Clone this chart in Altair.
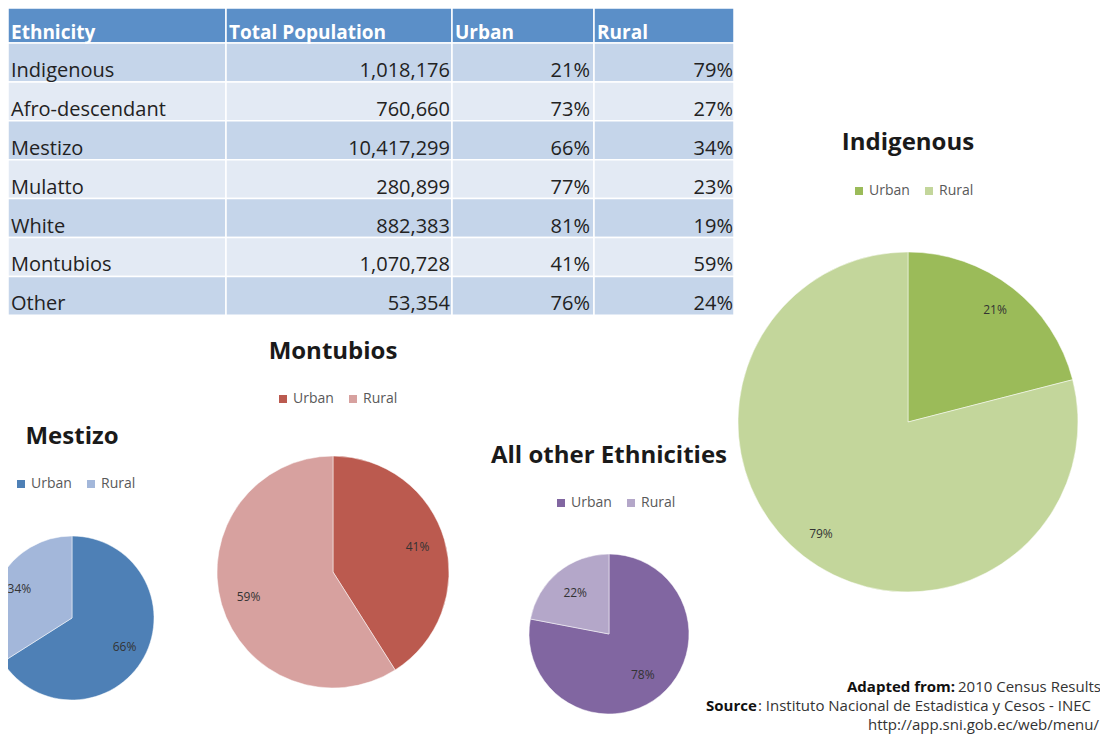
import altair as alt
import pandas as pd

W, H = 1092, 726
FONT = "Open Sans"

# ---------------- data ----------------
headers = ["Ethnicity", "Total Population", "Urban", "Rural"]
ethnicity = ["Indigenous", "Afro-descendant", "Mestizo", "Mulatto", "White", "Montubios", "Other"]
total_pop = [1018176, 760660, 10417299, 280899, 882383, 1070728, 53354]
urban_pct = [21, 73, 66, 77, 81, 41, 76]
rural_pct = [79, 27, 34, 23, 19, 59, 24]

categories = ["Urban", "Rural"]
pie_titles = ["Indigenous", "Montubios", "Mestizo", "All other Ethnicities"]
pie_urban = [21, 41, 66, 78]
pie_rural = [79, 59, 34, 22]
pie_colors = [
    ["#9bbb59", "#c3d69b"],
    ["#bb5a4f", "#d7a19f"],
    ["#4e80b6", "#a3b7da"],
    ["#8166a1", "#b4a7c9"],
]

source_bold = ["Adapted from:", "Source"]
source_normal = ["2010 Census Results", ": Instituto Nacional de Estadistica y Cesos - INEC"]
source_url = "http://app.sni.gob.ec/web/menu/"

# ---------------- layout ----------------
col_edges = [0, 218, 444, 586, 726]
header_top, header_bottom = 0, 35
row_h = 38.9
HEADER_FILL = "#5b8fc8"
ROW_FILLS = ["#c5d5ea", "#e3eaf4"]

xs = alt.Scale(domain=[0, W], nice=False, zero=False)
ys = alt.Scale(domain=[0, H], nice=False, zero=False, reverse=True)

# table cells
cells = []
for c in range(4):
    cells.append(dict(x0=col_edges[c], x1=col_edges[c + 1], y0=header_top, y1=header_bottom, fill=HEADER_FILL))
for r in range(len(ethnicity)):
    for c in range(4):
        cells.append(dict(x0=col_edges[c], x1=col_edges[c + 1],
                          y0=header_bottom + r * row_h, y1=header_bottom + (r + 1) * row_h,
                          fill=ROW_FILLS[r % 2]))
cells_df = pd.DataFrame(cells)

rects = alt.Chart(cells_df).mark_rect(stroke="white", strokeWidth=1.5).encode(
    x=alt.X("x0:Q", scale=xs, axis=None), x2="x1:Q",
    y=alt.Y("y0:Q", scale=ys, axis=None), y2="y1:Q",
    fill=alt.Fill("fill:N", scale=None),
)

head_df = pd.DataFrame({"label": headers, "x": [e + 3 for e in col_edges[:4]], "y": [25] * 4})
head_txt = alt.Chart(head_df).mark_text(align="left", baseline="middle", font=FONT, fontSize=19,
                                         fontWeight="bold", color="white").encode(
    x=alt.X("x:Q", scale=xs, axis=None), y=alt.Y("y:Q", scale=ys, axis=None), text="label:N")

row_y = [header_bottom + (r + 1) * row_h - 11 for r in range(len(ethnicity))]
name_df = pd.DataFrame({"label": ethnicity, "x": [3] * len(ethnicity), "y": row_y})
name_txt = alt.Chart(name_df).mark_text(align="left", baseline="middle", font=FONT, fontSize=20,
                                         color="#222222").encode(
    x=alt.X("x:Q", scale=xs, axis=None), y=alt.Y("y:Q", scale=ys, axis=None), text="label:N")

num_rows = []
for r in range(len(ethnicity)):
    num_rows.append(dict(label=f"{total_pop[r]:,}", x=col_edges[2] - 2, y=row_y[r]))
    num_rows.append(dict(label=f"{urban_pct[r]}%", x=col_edges[3] - 4, y=row_y[r]))
    num_rows.append(dict(label=f"{rural_pct[r]}%", x=col_edges[4] - 1, y=row_y[r]))
num_df = pd.DataFrame(num_rows)
num_txt = alt.Chart(num_df).mark_text(align="right", baseline="middle", font=FONT, fontSize=20,
                                       color="#222222").encode(
    x=alt.X("x:Q", scale=xs, axis=None), y=alt.Y("y:Q", scale=ys, axis=None), text="label:N")

# pies: center x, center y, radius, label radius, legend x, legend y, title y
pie_layout = [
    (900, 414, 170, 142, 844, 176, 135),
    (325, 564, 116, 88, 268, 384, 344),
    (64, 610, 82, 60, 6, 469, 429),
    (601, 626, 80, 53, 546, 488, 448),
]

pie_layers = []
for i, (cx, cy, r, lr, lx, ly, ty) in enumerate(pie_layout):
    df = pd.DataFrame({
        "cat": categories,
        "v": [pie_urban[i], pie_rural[i]],
        "o": [0, 1],
    })
    df["pct"] = df["v"].astype(str) + "%"
    base = alt.Chart(df).encode(
        x=alt.value(cx), y=alt.value(cy),
        theta=alt.Theta("v:Q", stack=True),
        order=alt.Order("o:Q"),
    )
    arc = base.mark_arc(outerRadius=r, stroke="white", strokeWidth=0.5).encode(
        color=alt.Color("cat:N", scale=alt.Scale(domain=categories, range=pie_colors[i]),
                        legend=alt.Legend(orient="none", legendX=lx, legendY=ly, direction="horizontal",
                                          title=None, symbolType="square", symbolSize=64,
                                          symbolStrokeWidth=0, labelFont=FONT, labelFontSize=14,
                                          labelColor="#595959", columnPadding=12, labelOffset=3,
                                          padding=0))
    )
    lab = base.mark_text(radius=lr, font=FONT, fontSize=12, color="#333333").encode(
        text="pct:N", detail="cat:N")
    pie_layers += [arc, lab]

title_df = pd.DataFrame({
    "label": pie_titles,
    "x": [p[0] for p in pie_layout],
    "y": [p[6] for p in pie_layout],
})
titles = alt.Chart(title_df).mark_text(align="center", baseline="middle", font=FONT, fontSize=24,
                                        fontWeight="bold", color="#1a1a1a").encode(
    x=alt.X("x:Q", scale=xs, axis=None), y=alt.Y("y:Q", scale=ys, axis=None), text="label:N")

src_bold_df = pd.DataFrame({"label": source_bold, "x": [839, 698], "y": [679, 698]})
src_norm_df = pd.DataFrame({"label": source_normal, "x": [950, 750], "y": [679, 698]})
src_url_df = pd.DataFrame({"label": [source_url], "x": [W - 1], "y": [717]})
src_bold = alt.Chart(src_bold_df).mark_text(align="left", baseline="middle", font=FONT, fontSize=15,
                                             fontWeight="bold", color="#111111").encode(
    x=alt.X("x:Q", scale=xs, axis=None), y=alt.Y("y:Q", scale=ys, axis=None), text="label:N")
src_norm = alt.Chart(src_norm_df).mark_text(
    align="left", baseline="middle", font=FONT, fontSize=15, color="#333333").encode(
    x=alt.X("x:Q", scale=xs, axis=None), y=alt.Y("y:Q", scale=ys, axis=None), text="label:N")
src_url_t = alt.Chart(src_url_df).mark_text(
    align="right", baseline="middle", font=FONT, fontSize=15, color="#333333").encode(
    x=alt.X("x:Q", scale=xs, axis=None), y=alt.Y("y:Q", scale=ys, axis=None), text="label:N")

chart = alt.layer(
    rects, head_txt, name_txt, num_txt, *pie_layers, titles, src_bold, src_norm, src_url_t
).resolve_scale(color="independent").properties(
    width=W, height=H, padding=0, autosize=alt.AutoSizeParams(type="none"), background="white"
).configure_view(stroke=None)

chart.save("out.html", embed_options={"renderer": "svg", "actions": False})
